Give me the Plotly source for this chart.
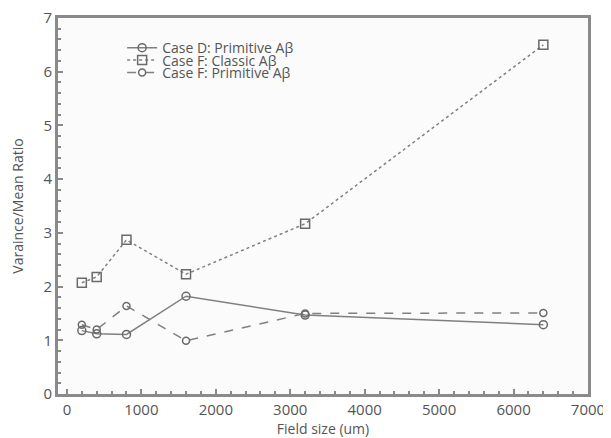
import plotly.graph_objects as go

field_size = [200, 400, 800, 1600, 3200, 6400]
case_d_primitive = [1.18, 1.12, 1.11, 1.82, 1.47, 1.29]
case_f_classic = [2.07, 2.18, 2.87, 2.23, 3.17, 6.50]
case_f_primitive = [1.29, 1.20, 1.64, 0.99, 1.50, 1.51]

names = ["Case D: Primitive Aβ", "Case F: Classic Aβ", "Case F: Primitive Aβ"]
series = [case_d_primitive, case_f_classic, case_f_primitive]
dashes = ["solid", "dot", "dash"]
symbols = ["circle-open", "square-open", "circle-open"]
sizes = [8, 9, 7]
legends = ["legend", "legend2", "legend3"]

col = "#808080"
fig = go.Figure()
for n, s, d, sym, sz, lg in zip(names, series, dashes, symbols, sizes, legends):
    fig.add_trace(go.Scatter(
        x=field_size, y=s, name=n, mode="lines+markers", legend=lg,
        line=dict(color=col, width=1.5, dash=d),
        marker=dict(symbol=sym, size=sz, color="#6a6a6a", line=dict(width=1.5, color="#6a6a6a")),
    ))

axis_common = dict(
    showline=True, linecolor="#8a8a8a", linewidth=3, mirror=True,
    ticks="inside", ticklen=5, tickcolor="#8a8a8a", tickwidth=1.5,
    showgrid=False, zeroline=False, automargin=False,
    ticklabeloverflow="allow",
    tickfont=dict(family="Open Sans", size=15, color="#555555"),
)
leg_common = dict(xanchor="left", yanchor="middle", bgcolor="rgba(0,0,0,0)",
                  font=dict(family="Open Sans", size=14, color="#555555"))
# page body has an 8px default margin; compensate in size and margins
fig.update_layout(
    width=603, height=430,
    margin=dict(l=50, r=23, t=10, b=44),
    paper_bgcolor="white", plot_bgcolor="#fbfbfb",
    font=dict(family="Open Sans", color="#555555"),
    xaxis=dict(range=[-120, 7000], dtick=1000, tick0=0,
               title=dict(text="Field size (um)", font=dict(size=14, color="#555555"), standoff=0),
               minor=dict(dtick=200, ticks="inside", ticklen=3, tickcolor="#8a8a8a"),
               **axis_common),
    yaxis=dict(range=[0, 7], dtick=1,
               title=dict(text="Varaince/Mean Ratio", font=dict(size=14, color="#555555"), standoff=17),
               minor=dict(dtick=0.2, ticks="inside", ticklen=3, tickcolor="#8a8a8a"),
               **axis_common),
    legend=dict(x=0.121, y=0.92, **leg_common),
    legend2=dict(x=0.121, y=0.887, **leg_common),
    legend3=dict(x=0.121, y=0.854, **leg_common),
    showlegend=True,
)
fig.write_html("out.html")
